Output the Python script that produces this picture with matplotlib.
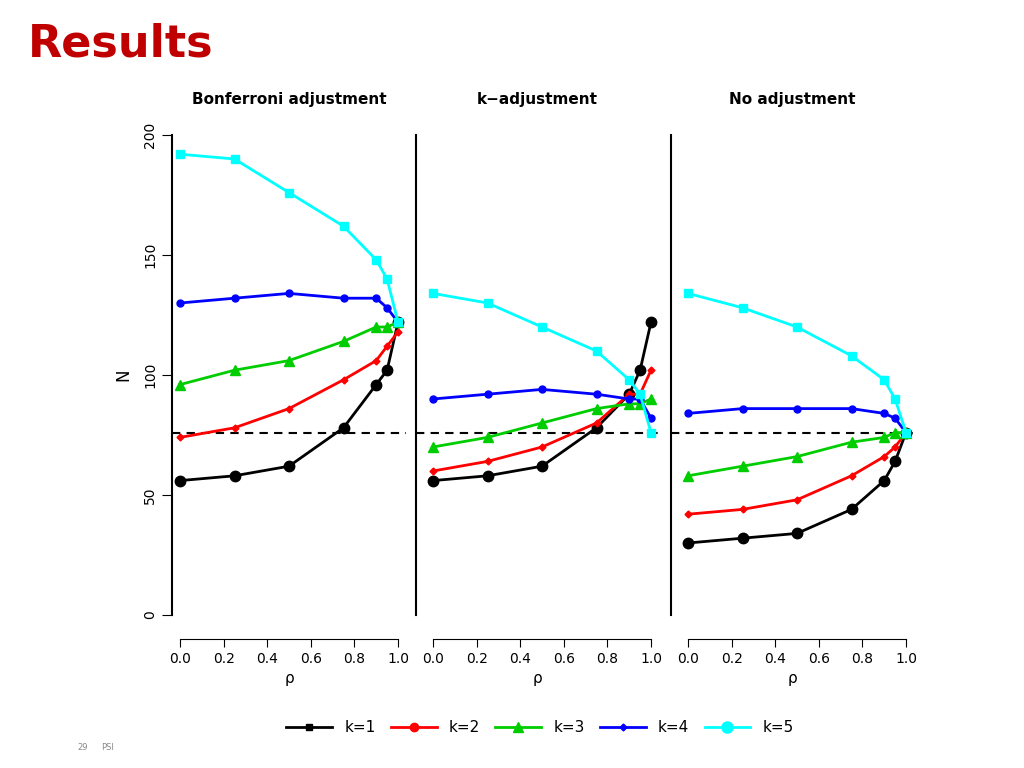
import matplotlib
matplotlib.use('Agg')
import matplotlib.pyplot as plt
from matplotlib.lines import Line2D

rho = [0.0, 0.25, 0.5, 0.75, 0.9, 0.95, 1.0]
panel_titles = ["Bonferroni adjustment", "k\u2212adjustment", "No adjustment"]
ref_line = 76

bonf_k1 = [56, 58, 62, 78, 96, 102, 122]
bonf_k2 = [74, 78, 86, 98, 106, 112, 118]
bonf_k3 = [96, 102, 106, 114, 120, 120, 122]
bonf_k4 = [130, 132, 134, 132, 132, 128, 122]
bonf_k5 = [192, 190, 176, 162, 148, 140, 122]

kadj_k1 = [56, 58, 62, 78, 92, 102, 122]
kadj_k2 = [60, 64, 70, 80, 92, 92, 102]
kadj_k3 = [70, 74, 80, 86, 88, 88, 90]
kadj_k4 = [90, 92, 94, 92, 90, 90, 82]
kadj_k5 = [134, 130, 120, 110, 98, 92, 76]

noadj_k1 = [30, 32, 34, 44, 56, 64, 76]
noadj_k2 = [42, 44, 48, 58, 66, 70, 76]
noadj_k3 = [58, 62, 66, 72, 74, 76, 76]
noadj_k4 = [84, 86, 86, 86, 84, 82, 76]
noadj_k5 = [134, 128, 120, 108, 98, 90, 76]

panels = [
    [bonf_k1, bonf_k2, bonf_k3, bonf_k4, bonf_k5],
    [kadj_k1, kadj_k2, kadj_k3, kadj_k4, kadj_k5],
    [noadj_k1, noadj_k2, noadj_k3, noadj_k4, noadj_k5],
]
colors = ["black", "#FF0000", "#00CD00", "#0000FF", "#00FFFF"]
markers = [("o", 7.5), ("D", 3.5), ("^", 6.5), ("o", 5), ("s", 5.5)]
legend_labels = ["k=1", "k=2", "k=3", "k=4", "k=5"]
legend_markers = [("s", 5), ("o", 6), ("^", 7), ("D", 3.5), ("o", 8)]

W, H = 1024, 768
PX_PER_UNIT = 218
fig = plt.figure(figsize=(W / 100, H / 100), dpi=100)
fig.text(28 / W, 1 - 44 / H, "Results", color="#C00000", fontsize=32,
         fontweight="bold", va="center", ha="left")

# (spine x, x of rho=0) per panel, in pixels
panel_pos = [(172, 180), (416, 433), (671, 688)]
for i, ((spine, zero), series) in enumerate(zip(panel_pos, panels)):
    width = zero - spine + PX_PER_UNIT + 8
    ax = fig.add_axes([spine / W, 1 - 615 / H, width / W, 480 / H])
    x0 = -(zero - spine) / PX_PER_UNIT
    ax.set_xlim(x0, x0 + width / PX_PER_UNIT)
    ax.set_ylim(0, 200)
    for s, c, (m, ms) in zip(series, colors, markers):
        ax.plot(rho, s, color=c, lw=2, marker=m, ms=ms, clip_on=False, zorder=3)
    ax.axhline(ref_line, color="black", ls=(0, (4, 3)), lw=1.5, zorder=2)
    for sp in ["top", "right"]:
        ax.spines[sp].set_visible(False)
    ax.spines["bottom"].set_position(("outward", 17))
    ax.spines["bottom"].set_bounds(0, 1)
    ax.spines["left"].set_linewidth(1.5)
    ax.set_xticks([0, 0.2, 0.4, 0.6, 0.8, 1.0])
    ax.set_xticklabels(["0.0", "0.2", "0.4", "0.6", "0.8", "1.0"], fontsize=10)
    ax.set_xlabel("\u03c1", fontsize=11)
    ax.tick_params(axis="x", length=6)
    if i == 0:
        ax.set_yticks([0, 50, 100, 150, 200])
        ax.set_yticklabels(["0", "50", "100", "150", "200"], fontsize=10,
                           rotation=90, va="center")
        ax.tick_params(axis="y", length=7)
        ax.set_ylabel("N", fontsize=12, labelpad=8)
    else:
        ax.set_yticks([])
    ax.set_title(panel_titles[i], fontsize=11, fontweight="bold", pad=22)

handles = [Line2D([], [], color=c, lw=2, marker=m, ms=ms)
           for c, (m, ms) in zip(colors, legend_markers)]
fig.legend(handles, legend_labels, loc="center", bbox_to_anchor=(540 / W, 1 - 728 / H),
           ncol=5, frameon=False, fontsize=11, handlelength=3, columnspacing=1.0)
fig.text(77 / W, 1 - 747 / H, "29", fontsize=6, color="#888888", va="center")
fig.text(101 / W, 1 - 747 / H, "PSI", fontsize=6, color="#888888", va="center")

fig.savefig("out.png", dpi=100)
